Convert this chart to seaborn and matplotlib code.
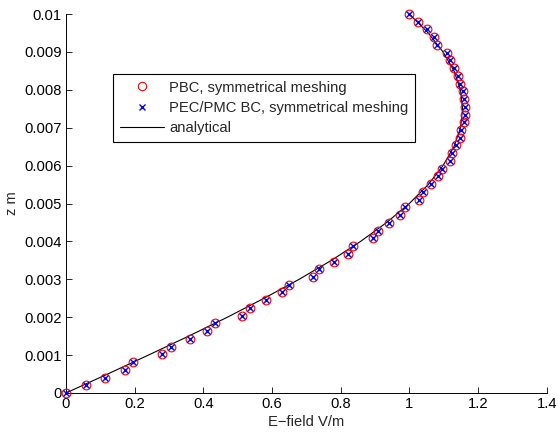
import numpy as np
import pandas as pd
import matplotlib
matplotlib.use("Agg")
import matplotlib.pyplot as plt
import seaborn as sns

# ---- data ----
z_num = [0.0, 0.000204, 0.000408, 0.000612, 0.000816, 0.00102, 0.001224, 0.001429,
         0.001633, 0.001837, 0.002041, 0.002245, 0.002449, 0.002653, 0.002857, 0.003061,
         0.003265, 0.003469, 0.003673, 0.003878, 0.004082, 0.004286, 0.00449, 0.004694,
         0.004898, 0.005102, 0.005306, 0.00551, 0.005714, 0.005918, 0.006122, 0.006327,
         0.006531, 0.006735, 0.006939, 0.007143, 0.007347, 0.007551, 0.007755, 0.007959,
         0.008163, 0.008367, 0.008571, 0.008776, 0.00898, 0.009184, 0.009388, 0.009592,
         0.009796, 0.01]
E_pbc = [0.000, 0.057, 0.114, 0.172, 0.196, 0.281, 0.306, 0.360, 0.411, 0.434,
         0.512, 0.535, 0.582, 0.630, 0.650, 0.720, 0.738, 0.780, 0.820, 0.837,
         0.893, 0.910, 0.942, 0.973, 0.987, 1.029, 1.040, 1.063, 1.084, 1.094,
         1.119, 1.124, 1.137, 1.147, 1.149, 1.159, 1.162, 1.162, 1.160, 1.157,
         1.147, 1.142, 1.130, 1.118, 1.110, 1.081, 1.073, 1.050, 1.026, 1.000]
E_pec = [0.000, 0.057, 0.114, 0.172, 0.196, 0.281, 0.306, 0.360, 0.411, 0.434,
         0.512, 0.535, 0.582, 0.630, 0.650, 0.720, 0.738, 0.780, 0.820, 0.837,
         0.893, 0.910, 0.942, 0.973, 0.987, 1.029, 1.040, 1.063, 1.084, 1.094,
         1.119, 1.124, 1.137, 1.147, 1.149, 1.159, 1.162, 1.162, 1.160, 1.157,
         1.147, 1.142, 1.130, 1.118, 1.110, 1.081, 1.073, 1.050, 1.026, 1.000]
z_ana = [0.0, 0.0005, 0.001, 0.0015, 0.002, 0.0025, 0.003, 0.0035, 0.004, 0.0045,
         0.005, 0.0055, 0.006, 0.0065, 0.007, 0.0075, 0.008, 0.0085, 0.009, 0.0095, 0.01]
E_ana = [0.0, 0.121, 0.240, 0.357, 0.470, 0.577, 0.679, 0.773, 0.858, 0.934,
         1.000, 1.055, 1.098, 1.130, 1.149, 1.155, 1.149, 1.130, 1.098, 1.055, 1.000]

x_ticks = [0, 0.2, 0.4, 0.6, 0.8, 1, 1.2, 1.4]
x_ticklabels = ["0", "0.2", "0.4", "0.6", "0.8", "1", "1.2", "1.4"]
y_ticks = [0, 0.001, 0.002, 0.003, 0.004, 0.005, 0.006, 0.007, 0.008, 0.009, 0.01]
y_ticklabels = ["0", "0.001", "0.002", "0.003", "0.004", "0.005", "0.006",
                "0.007", "0.008", "0.009", "0.01"]
labels = ["PBC, symmetrical meshing", "PEC/PMC BC, symmetrical meshing", "analytical"]

sns.set_style("ticks")
plt.rcParams["font.family"] = ["Liberation Sans", "DejaVu Sans"]

FS = 10.6

fig = plt.figure(figsize=(5.58, 4.34), dpi=100)
ax = fig.add_axes([66 / 558, 1 - 393 / 434, (546.7 - 66) / 558, (393 - 14) / 434])

df_num = pd.DataFrame({"E1": E_pbc, "E2": E_pec, "z": z_num})
df_ana = pd.DataFrame({"E": E_ana, "z": z_ana})

sns.lineplot(data=df_ana, x="E", y="z", sort=False, estimator=None, ax=ax,
             color="black", linewidth=0.8, label=labels[2], clip_on=False, zorder=2)
sns.lineplot(data=df_num, x="E1", y="z", sort=False, estimator=None, ax=ax,
             linestyle="", marker="o", markersize=6.3, markerfacecolor="none",
             markeredgecolor="red", markeredgewidth=0.8, color="red", label=labels[0],
             clip_on=False, zorder=3)
sns.lineplot(data=df_num, x="E2", y="z", sort=False, estimator=None, ax=ax,
             linestyle="", marker="x", markersize=4.3, markeredgewidth=1.0,
             color="blue", markeredgecolor="blue", label=labels[1],
             clip_on=False, zorder=4)

ax.set_xlim(0, 1.4)
ax.set_ylim(0, 0.01)
ax.set_xticks(x_ticks)
ax.set_xticklabels(x_ticklabels)
ax.set_yticks(y_ticks)
ax.set_yticklabels(y_ticklabels)
ax.tick_params(direction="in", length=4, width=0.6, labelsize=FS, pad=3, colors="black")
for side in ["top", "right"]:
    ax.spines[side].set_visible(False)
for side in ["left", "bottom"]:
    ax.spines[side].set_linewidth(0.7)
    ax.spines[side].set_color("black")

ax.set_xlabel("E\u2212field V/m", fontsize=FS, labelpad=2.5)
ax.set_ylabel("z m", fontsize=FS, labelpad=4)

handles, _ = ax.get_legend_handles_labels()
order = [1, 2, 0]
leg = ax.legend([handles[i] for i in order], labels,
                loc="upper left", bbox_to_anchor=((113 - 66) / 480.7, (393 - 74) / 379),
                borderaxespad=0, fontsize=FS, frameon=True, fancybox=False,
                edgecolor="black", framealpha=1, handlelength=3.0, handletextpad=0.35,
                borderpad=0.45, labelspacing=0.42)
leg.get_frame().set_linewidth(0.8)
leg.legend_handles[0].set_markersize(6)
leg.legend_handles[1].set_markersize(4.3)

fig.savefig("out.png", dpi=100)
